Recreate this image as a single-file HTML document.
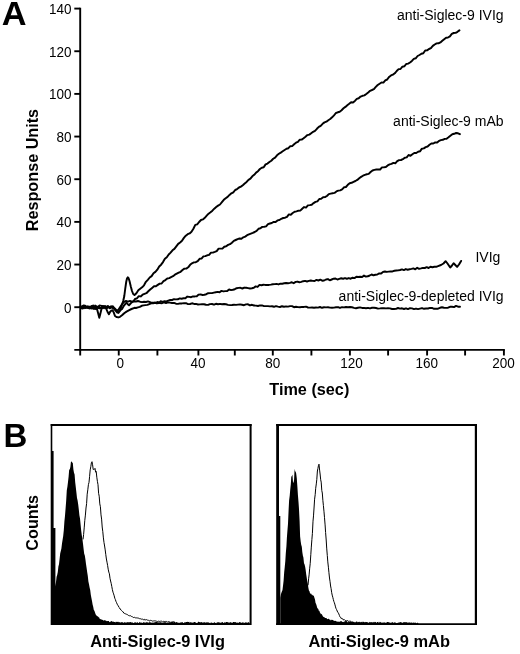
<!DOCTYPE html>
<html lang="en">
<head>
<meta charset="utf-8">
<title>Figure</title>
<style>
html,body{margin:0;padding:0;background:#fff;}
body{width:520px;height:654px;overflow:hidden;font-family:"Liberation Sans",Arial,Helvetica,sans-serif;}
svg text{white-space:pre;}
svg{filter:grayscale(1);}
</style>
</head>
<body>
<svg width="520" height="654" viewBox="0 0 520 654" style="display:block">
<rect x="0" y="0" width="520" height="654" fill="#fff"/>
<g font-family="'Liberation Sans', Arial, Helvetica, sans-serif" fill="#000">
<text transform="translate(1.7,25.4) scale(1.04,1)" font-size="33" font-weight="bold">A</text>
<text x="3.6" y="446.9" font-size="33" font-weight="bold">B</text>
<g stroke="#000" stroke-width="1.9" fill="none" stroke-linecap="butt">
<path d="M80.2,7.7 V350.8"/>
<path d="M74.3,349.85 H504.85"/>
<path d="M74.3,307.20 H80.2"/>
<path d="M74.3,264.54 H80.2"/>
<path d="M74.3,221.88 H80.2"/>
<path d="M74.3,179.22 H80.2"/>
<path d="M74.3,136.56 H80.2"/>
<path d="M74.3,93.90 H80.2"/>
<path d="M74.3,51.24 H80.2"/>
<path d="M74.3,8.58 H80.2"/>
<path d="M80.20,349.85 V355.5"/>
<path d="M118.75,349.85 V355.5"/>
<path d="M157.40,349.85 V355.5"/>
<path d="M198.40,349.85 V355.5"/>
<path d="M234.80,349.85 V355.5"/>
<path d="M272.80,349.85 V355.5"/>
<path d="M311.40,349.85 V355.5"/>
<path d="M349.90,349.85 V355.5"/>
<path d="M388.10,349.85 V355.5"/>
<path d="M427.10,349.85 V355.5"/>
<path d="M465.10,349.85 V355.5"/>
<path d="M503.90,349.85 V355.5"/>
</g>
<text transform="translate(71.5,312.50) scale(0.965,1)" font-size="14" text-anchor="end">0</text>
<text transform="translate(71.5,269.84) scale(0.965,1)" font-size="14" text-anchor="end">20</text>
<text transform="translate(71.5,227.18) scale(0.965,1)" font-size="14" text-anchor="end">40</text>
<text transform="translate(71.5,184.52) scale(0.965,1)" font-size="14" text-anchor="end">60</text>
<text transform="translate(71.5,141.86) scale(0.965,1)" font-size="14" text-anchor="end">80</text>
<text transform="translate(71.5,99.20) scale(0.965,1)" font-size="14" text-anchor="end">100</text>
<text transform="translate(71.5,56.54) scale(0.965,1)" font-size="14" text-anchor="end">120</text>
<text transform="translate(71.5,13.88) scale(0.965,1)" font-size="14" text-anchor="end">140</text>
<text transform="translate(120.20,368.0) scale(0.965,1)" font-size="14" text-anchor="middle">0</text>
<text transform="translate(197.90,368.0) scale(0.965,1)" font-size="14" text-anchor="middle">40</text>
<text transform="translate(272.70,368.0) scale(0.965,1)" font-size="14" text-anchor="middle">80</text>
<text transform="translate(351.40,368.0) scale(0.965,1)" font-size="14" text-anchor="middle">120</text>
<text transform="translate(426.80,368.0) scale(0.965,1)" font-size="14" text-anchor="middle">160</text>
<text transform="translate(503.60,368.0) scale(0.965,1)" font-size="14" text-anchor="middle">200</text>
<text transform="translate(38.1,231.2) rotate(-90)" font-size="15.7" font-weight="bold" textLength="122.3" lengthAdjust="spacingAndGlyphs">Response Units</text>
<text x="269.3" y="395.4" font-size="16" font-weight="bold" textLength="80.0" lengthAdjust="spacingAndGlyphs">Time (sec)</text>
<text x="503.6" y="20.4" font-size="14" text-anchor="end">anti-Siglec-9 IVIg</text>
<text x="503.6" y="126.2" font-size="14" text-anchor="end">anti-Siglec-9 mAb</text>
<text x="500.4" y="261.8" font-size="14" text-anchor="end">IVIg</text>
<text x="503.6" y="301.3" font-size="14" text-anchor="end">anti-Siglec-9-depleted IVIg</text>
<g stroke="#000" stroke-width="1.95" fill="none" stroke-linejoin="round" stroke-linecap="round">
<path d="M80.5,307.1 L81.8,306.4 L83.8,305.5 L85.1,305.6 L86.8,307.7 L88.4,307.4 L89.8,308.3 L91.5,306.0 L93.3,308.3 L95.1,308.7 L96.7,306.7 L98.0,307.8 L99.6,308.3 L101.5,308.0 L102.9,306.0 L104.4,306.4 L106.0,307.0 L107.7,306.1 L109.5,307.9 L111.1,306.3 L112.6,307.6 L114.0,308.5 L115.5,310.5 L117.0,312.3 L118.4,313.0 L119.6,311.5 L120.8,308.0 L122.0,304.5 L123.2,301.0 L124.3,296.0 L125.2,289.0 L126.2,282.0 L127.0,278.5 L127.8,277.3 L128.6,278.2 L129.5,281.0 L130.8,286.5 L132.0,291.0 L133.2,294.0 L134.5,295.0 L136.4,293.2 L138.3,290.3 L140.2,288.7 L142.1,287.3 L144.0,285.3 L145.9,281.8 L147.8,279.8 L149.7,277.5 L151.6,276.1 L153.5,273.3 L155.4,271.9 L157.3,269.7 L159.2,266.5 L161.1,264.7 L163.0,262.1 L164.9,258.7 L166.8,257.2 L168.7,254.5 L170.6,252.6 L172.5,250.3 L174.4,248.9 L176.3,246.4 L178.2,243.9 L180.1,242.5 L182.0,240.8 L183.9,237.9 L185.8,235.7 L187.7,234.2 L189.6,233.4 L191.5,231.7 L193.4,228.8 L195.3,224.9 L197.2,224.4 L199.1,222.0 L201.0,220.0 L202.9,219.4 L204.8,217.8 L206.7,215.7 L208.6,213.7 L210.5,212.3 L212.4,210.7 L214.3,208.7 L216.2,207.0 L218.1,205.6 L220.0,204.5 L221.9,202.2 L223.8,199.8 L225.7,198.2 L227.6,196.9 L229.5,194.9 L231.4,193.3 L233.3,192.3 L235.2,190.0 L237.1,189.1 L239.0,187.5 L240.9,186.6 L242.8,185.2 L244.7,183.5 L246.6,181.9 L248.5,179.8 L250.4,178.7 L252.3,176.3 L254.2,174.8 L256.1,172.6 L258.0,171.2 L259.9,169.0 L261.8,167.7 L263.7,167.3 L265.6,164.4 L267.5,163.6 L269.4,162.0 L271.3,160.7 L273.2,158.8 L275.1,157.6 L277.0,155.3 L278.9,153.8 L280.8,152.6 L282.7,151.3 L284.6,150.0 L286.5,148.8 L288.4,148.2 L290.3,146.2 L292.2,146.1 L294.1,144.2 L296.0,142.7 L297.9,141.8 L299.8,139.7 L301.7,139.6 L303.6,138.2 L305.5,136.7 L307.4,135.1 L309.3,134.6 L311.2,133.2 L313.1,131.8 L315.0,130.8 L316.9,128.8 L318.8,126.9 L320.7,125.8 L322.6,123.8 L324.5,122.4 L326.4,121.7 L328.3,120.2 L330.2,119.0 L332.1,117.3 L334.0,115.3 L335.9,113.0 L337.8,112.3 L339.7,111.7 L341.6,110.2 L343.5,108.3 L345.4,106.9 L347.3,105.2 L349.2,103.8 L351.1,102.3 L353.0,102.5 L354.9,100.9 L356.8,98.9 L358.7,98.3 L360.6,96.6 L362.5,95.8 L364.4,95.4 L366.3,94.0 L368.2,92.5 L370.1,90.8 L372.0,90.0 L373.9,89.1 L375.8,86.9 L377.7,85.0 L379.6,83.7 L381.5,82.5 L383.4,82.6 L385.3,80.4 L387.2,79.5 L389.1,76.9 L391.0,75.4 L392.9,74.6 L394.8,73.3 L396.7,71.0 L398.6,69.1 L400.5,69.0 L402.4,66.7 L404.3,66.3 L406.2,64.0 L408.1,63.6 L410.0,62.5 L411.9,60.9 L413.8,58.9 L415.7,58.3 L417.6,56.0 L419.5,55.0 L421.4,53.8 L423.3,53.2 L425.2,50.5 L427.1,50.4 L429.0,49.0 L430.9,48.1 L432.8,45.9 L434.7,44.5 L436.6,43.4 L438.5,43.3 L440.4,42.4 L442.3,40.8 L444.2,39.2 L446.1,37.7 L448.0,37.5 L449.9,36.4 L451.8,33.9 L453.7,33.0 L455.6,32.9 L457.5,31.8 L459.4,30.4"/>
<path d="M80.5,307.1 L81.9,307.0 L83.7,308.3 L85.1,306.6 L86.8,307.7 L88.3,308.2 L89.8,307.3 L91.9,307.9 L93.1,305.4 L95.1,308.7 L97.0,309.0 L98.2,313.5 L99.3,317.7 L100.4,313.5 L101.6,308.5 L102.6,306.5 L104.0,308.2 L105.5,306.3 L107.0,308.0 L108.5,306.4 L110.0,308.3 L111.5,307.0 L113.0,308.0 L114.5,309.0 L116.0,310.5 L118.0,311.6 L120.0,310.6 L122.0,309.0 L124.0,305.5 L126.5,302.7 L128.0,304.5 L129.0,305.3 L131.0,303.0 L133.4,301.3 L135.0,299.0 L136.9,298.3 L138.8,296.2 L140.7,296.4 L142.6,294.7 L144.5,293.9 L146.4,293.2 L148.3,291.3 L150.2,289.5 L152.1,287.9 L154.0,286.3 L155.9,286.3 L157.8,284.9 L159.7,283.6 L161.6,283.5 L163.5,281.2 L165.4,280.1 L167.3,278.5 L169.2,278.1 L171.1,277.1 L173.0,276.2 L174.9,274.7 L176.8,273.7 L178.7,272.7 L180.6,271.8 L182.5,270.0 L184.4,268.6 L186.3,268.6 L188.2,267.3 L190.1,264.8 L192.0,263.3 L193.9,262.4 L195.8,262.2 L197.7,261.2 L199.6,258.8 L201.5,258.6 L203.4,256.4 L205.3,256.1 L207.2,255.3 L209.1,254.9 L211.0,252.6 L212.9,252.6 L214.8,251.9 L216.7,251.1 L218.6,248.6 L220.5,248.6 L222.4,248.6 L224.3,246.7 L226.2,246.3 L228.1,244.9 L230.0,244.2 L231.9,242.7 L233.8,240.9 L235.7,240.0 L237.6,239.1 L239.5,238.5 L241.4,238.8 L243.3,237.3 L245.2,236.6 L247.1,235.2 L249.0,234.3 L250.9,233.6 L252.8,232.9 L254.7,232.0 L256.6,230.9 L258.5,228.8 L260.4,228.3 L262.3,226.9 L264.2,226.8 L266.1,226.4 L268.0,224.2 L269.9,223.5 L271.8,223.0 L273.7,221.9 L275.6,222.0 L277.5,220.4 L279.4,220.0 L281.3,218.8 L283.2,218.0 L285.1,217.7 L287.0,216.8 L288.9,214.4 L290.8,214.7 L292.7,213.0 L294.6,211.8 L296.5,211.4 L298.4,210.7 L300.3,210.6 L302.2,208.7 L304.1,207.1 L306.0,207.6 L307.9,205.4 L309.8,205.1 L311.7,204.7 L313.6,203.1 L315.5,201.9 L317.4,201.4 L319.3,199.0 L321.2,198.7 L323.1,197.3 L325.0,197.1 L326.9,196.0 L328.8,194.1 L330.7,193.6 L332.6,193.2 L334.5,192.9 L336.4,191.4 L338.3,190.6 L340.2,190.4 L342.1,189.4 L344.0,187.3 L345.9,187.0 L347.8,184.8 L349.7,183.2 L351.6,182.8 L353.5,181.8 L355.4,181.0 L357.3,179.9 L359.2,178.2 L361.1,176.9 L363.0,175.7 L364.9,174.9 L366.8,174.3 L368.7,173.9 L370.6,172.0 L372.5,170.5 L374.4,169.9 L376.3,169.5 L378.2,169.5 L380.1,169.5 L382.0,167.4 L383.9,167.3 L385.8,167.1 L387.7,165.4 L389.6,164.4 L391.5,163.9 L393.4,162.9 L395.3,163.3 L397.2,161.2 L399.1,160.1 L401.0,160.0 L402.9,159.1 L404.8,157.8 L406.7,157.4 L408.6,155.0 L410.5,155.8 L412.4,154.3 L414.3,153.0 L416.2,153.0 L418.1,151.7 L420.0,151.3 L421.9,148.7 L423.8,148.4 L425.7,147.1 L427.6,146.5 L429.5,144.8 L431.4,143.5 L433.3,143.5 L435.2,142.4 L437.1,142.5 L439.0,140.9 L440.9,140.1 L442.8,139.8 L444.7,138.9 L446.6,138.7 L448.5,137.3 L450.4,135.8 L452.3,134.3 L454.2,133.8 L456.1,133.0 L458.0,133.3 L459.9,134.2"/>
<path d="M80.5,307.1 L82.1,308.6 L83.9,306.4 L85.1,307.7 L86.7,306.7 L88.6,306.8 L89.8,308.4 L91.9,306.4 L93.4,308.7 L95.1,305.6 L96.4,306.4 L98.3,307.5 L99.5,305.4 L101.6,305.9 L102.9,306.6 L104.7,306.9 L106.3,308.8 L107.6,312.0 L108.9,314.2 L110.0,312.0 L111.3,310.6 L112.6,310.2 L113.8,312.6 L115.0,316.0 L116.5,317.0 L118.4,317.4 L120.0,316.8 L122.0,315.3 L124.2,313.2 L126.5,311.6 L128.8,310.3 L131.5,309.0 L134.5,307.8 L136.0,308.0 L137.9,307.4 L139.8,306.9 L141.7,305.8 L143.6,305.4 L145.5,305.1 L147.4,304.9 L149.3,304.1 L151.2,303.3 L153.1,303.3 L155.0,302.7 L156.9,303.4 L158.8,303.1 L160.7,301.3 L162.6,301.9 L164.5,301.3 L166.4,301.4 L168.3,300.6 L170.2,300.0 L172.1,300.0 L174.0,299.2 L175.9,299.4 L177.8,299.3 L179.7,298.4 L181.6,298.8 L183.5,298.3 L185.4,298.2 L187.3,296.6 L189.2,296.9 L191.1,297.2 L193.0,296.4 L194.9,296.4 L196.8,296.2 L198.7,294.6 L200.6,294.4 L202.5,295.0 L204.4,294.8 L206.3,294.2 L208.2,293.2 L210.1,293.1 L212.0,293.1 L213.9,292.6 L215.8,292.2 L217.7,291.9 L219.6,292.3 L221.5,290.9 L223.4,291.4 L225.3,291.1 L227.2,291.1 L229.1,289.4 L231.0,290.1 L232.9,289.8 L234.8,289.2 L236.7,288.2 L238.6,287.9 L240.5,287.8 L242.4,288.5 L244.3,287.6 L246.2,287.7 L248.1,288.1 L250.0,288.5 L251.9,288.2 L253.8,287.8 L255.7,286.4 L257.6,286.9 L259.5,284.9 L261.4,285.2 L263.3,284.8 L265.2,284.9 L267.1,284.9 L269.0,284.9 L270.9,284.6 L272.8,284.2 L274.7,284.1 L276.6,283.9 L278.5,284.4 L280.4,283.7 L282.3,283.7 L284.2,283.3 L286.1,283.0 L288.0,283.3 L289.9,282.9 L291.8,282.3 L293.7,283.2 L295.6,281.9 L297.5,281.6 L299.4,282.2 L301.3,281.9 L303.2,281.2 L305.1,280.9 L307.0,281.5 L308.9,280.9 L310.8,280.5 L312.7,280.9 L314.6,281.0 L316.5,279.9 L318.4,280.5 L320.3,279.7 L322.2,280.7 L324.1,280.5 L326.0,279.5 L327.9,279.1 L329.8,280.3 L331.7,279.5 L333.6,278.7 L335.5,278.5 L337.4,279.5 L339.3,278.9 L341.2,278.3 L343.1,278.7 L345.0,278.1 L346.9,278.7 L348.8,278.1 L350.7,278.7 L352.6,277.7 L354.5,278.1 L356.4,276.8 L358.3,277.0 L360.2,276.7 L362.1,277.0 L364.0,275.6 L365.9,276.6 L367.8,276.3 L369.7,275.5 L371.6,274.5 L373.5,275.3 L375.4,274.7 L377.3,274.5 L379.2,273.4 L381.1,273.5 L383.0,271.9 L384.9,271.5 L386.8,271.9 L388.7,271.6 L390.6,271.4 L392.5,271.4 L394.4,270.8 L396.3,270.5 L398.2,270.4 L400.1,270.0 L402.0,269.4 L403.9,270.1 L405.8,269.1 L407.7,269.7 L409.6,269.3 L411.5,268.9 L413.4,268.4 L415.3,269.3 L417.2,267.8 L419.1,268.8 L421.0,268.4 L422.9,267.9 L424.8,268.0 L426.7,267.2 L428.6,268.0 L430.5,266.7 L432.4,267.2 L434.3,266.7 L436.2,266.8 L438.1,266.1 L441.0,265.0 L443.5,263.5 L445.6,261.2 L447.5,263.5 L450.2,267.5 L452.0,265.5 L453.6,263.2 L455.3,265.0 L457.1,266.9 L459.0,264.5 L461.1,260.9"/>
<path d="M80.5,307.1 L82.4,307.8 L84.0,306.1 L85.2,307.9 L87.2,306.5 L88.3,306.7 L90.0,306.6 L91.8,308.5 L93.3,306.2 L95.0,307.3 L96.5,308.4 L98.3,306.4 L99.8,307.7 L101.6,308.4 L103.2,307.6 L104.6,306.2 L106.1,308.1 L107.9,307.2 L109.5,307.1 L111.1,307.5 L112.7,306.2 L114.5,308.3 L116.0,309.8 L117.3,310.6 L118.6,309.4 L120.0,307.2 L121.5,305.0 L123.0,303.0 L124.5,301.6 L126.0,301.0 L128.0,301.6 L130.0,300.9 L132.0,301.6 L134.0,301.2 L136.0,301.5 L138.0,301.0 L140.0,301.7 L142.0,302.1 L144.0,301.8 L146.0,302.0 L148.0,301.4 L150.0,302.1 L152.0,302.8 L154.0,302.8 L156.0,302.7 L158.0,302.0 L160.0,303.1 L162.0,303.2 L164.0,302.4 L166.0,303.1 L168.0,302.4 L170.0,302.6 L172.0,303.0 L174.0,302.9 L176.0,303.7 L178.0,303.9 L180.0,303.4 L182.0,303.4 L184.0,303.2 L186.0,303.2 L188.0,304.1 L190.0,304.0 L192.0,303.3 L194.0,303.9 L196.0,303.9 L198.0,304.5 L200.0,304.4 L202.0,304.3 L204.0,304.2 L206.0,304.8 L208.0,304.9 L210.0,304.1 L212.0,304.0 L214.0,304.7 L216.0,303.8 L218.0,304.2 L220.0,303.9 L222.0,304.2 L224.0,304.0 L226.0,304.3 L228.0,304.9 L230.0,305.1 L232.0,305.0 L234.0,304.8 L236.0,304.9 L238.0,304.6 L240.0,304.4 L242.0,304.8 L244.0,305.2 L246.0,304.4 L248.0,304.3 L250.0,305.4 L252.0,304.8 L254.0,305.5 L256.0,305.6 L258.0,306.0 L260.0,305.4 L262.0,305.4 L264.0,306.1 L266.0,306.1 L268.0,306.1 L270.0,306.4 L272.0,306.3 L274.0,306.8 L276.0,306.1 L278.0,306.6 L280.0,307.0 L282.0,306.2 L284.0,306.7 L286.0,306.4 L288.0,306.6 L290.0,306.1 L292.0,306.1 L294.0,307.2 L296.0,306.8 L298.0,307.1 L300.0,307.3 L302.0,306.9 L304.0,306.9 L306.0,306.7 L308.0,307.5 L310.0,307.6 L312.0,307.5 L314.0,307.8 L316.0,307.5 L318.0,307.6 L320.0,307.0 L322.0,307.8 L324.0,307.3 L326.0,307.4 L328.0,307.3 L330.0,307.6 L332.0,307.7 L334.0,307.6 L336.0,307.3 L338.0,307.1 L340.0,307.9 L342.0,307.2 L344.0,307.4 L346.0,307.0 L348.0,307.2 L350.0,307.0 L352.0,307.3 L354.0,307.9 L356.0,308.2 L358.0,307.8 L360.0,307.4 L362.0,307.9 L364.0,307.9 L366.0,308.2 L368.0,307.9 L370.0,308.4 L372.0,307.8 L374.0,307.7 L376.0,308.0 L378.0,308.6 L380.0,308.4 L382.0,308.1 L384.0,308.2 L386.0,308.4 L388.0,308.2 L390.0,308.4 L392.0,309.0 L394.0,309.0 L396.0,308.9 L398.0,308.0 L400.0,308.6 L402.0,308.3 L404.0,309.0 L406.0,308.3 L408.0,309.1 L410.0,308.2 L412.0,308.4 L414.0,309.1 L416.0,308.6 L418.0,309.1 L420.0,308.6 L422.0,308.1 L424.0,308.8 L426.0,308.5 L428.0,308.5 L430.0,307.9 L432.0,307.9 L434.0,308.8 L436.0,308.8 L438.0,308.7 L440.0,307.8 L442.0,307.3 L444.0,307.8 L446.0,307.9 L448.0,307.7 L450.0,306.8 L452.0,306.8 L454.0,307.1 L456.0,305.9 L458.0,306.7 L460.0,306.7"/>
</g>
<g stroke="none" fill="#000">
<path d="M53,625.0 L53.0,595.6 L53.6,593.2 L54.2,590.6 L54.8,587.4 L55.4,584.5 L56.0,581.9 L56.6,576.7 L57.2,575.0 L57.8,571.9 L58.4,566.5 L59.0,564.3 L59.6,559.0 L60.2,553.5 L60.8,550.9 L61.4,548.6 L62.0,543.5 L62.6,539.8 L63.2,536.1 L63.8,530.3 L64.4,521.4 L65.0,515.7 L65.6,508.2 L66.2,500.4 L66.8,490.3 L67.4,486.7 L68.0,482.0 L68.6,476.8 L69.2,469.6 L69.8,469.5 L70.4,466.8 L71.0,461.2 L71.6,461.8 L72.2,462.6 L72.8,462.9 L73.4,469.6 L74.0,472.8 L74.6,474.5 L75.2,482.2 L75.8,487.3 L76.4,492.5 L77.0,497.9 L77.6,500.6 L78.2,504.5 L78.8,509.6 L79.4,515.2 L80.0,518.5 L80.6,524.6 L81.2,530.8 L81.8,535.3 L82.4,538.9 L83.0,543.8 L83.6,548.9 L84.2,553.7 L84.8,555.4 L85.4,559.3 L86.0,564.1 L86.6,568.1 L87.2,572.3 L87.8,575.9 L88.4,581.4 L89.0,584.3 L89.6,587.5 L90.2,590.1 L90.8,594.8 L91.4,598.0 L92.0,601.0 L92.6,604.5 L93.2,606.7 L93.8,610.0 L94.4,610.8 L95.0,612.4 L95.6,614.3 L96.2,615.3 L96.8,615.7 L97.4,616.2 L98.0,616.6 L98.6,617.2 L99.2,617.4 L99.8,618.9 L100.4,619.1 L101.0,619.5 L101.6,619.5 L102.2,619.7 L102.8,620.0 L103.4,620.6 L104.0,620.4 L104.6,620.1 L105.2,620.7 L105.8,620.2 L106.4,621.1 L107.0,621.2 L107.6,621.0 L108.2,620.9 L108.8,620.9 L109.4,622.0 L110.0,622.2 L110.6,621.4 L111.2,621.0 L111.8,621.3 L112.4,621.6 L113.0,622.1 L113.6,621.5 L114.2,622.1 L114.8,622.0 L115.4,622.4 L116.0,621.4 L116.6,622.1 L117.2,622.0 L117.8,621.7 L118.4,621.8 L119.0,622.6 L119.6,622.1 L120.2,622.6 L120.8,622.5 L121.4,621.9 L122.0,622.5 L122.6,621.9 L123.2,623.0 L123.8,622.6 L124.4,622.1 L125.0,622.7 L125.6,622.6 L126.2,621.9 L126.8,623.0 L127.4,622.1 L128.0,622.3 L128.6,622.3 L129.2,622.4 L129.8,622.1 L130.4,622.0 L131.0,622.3 L131.6,622.6 L132.2,622.5 L132.8,622.6 L133.4,623.0 L134.0,622.9 L134.6,622.2 L135.2,622.5 L135.8,622.3 L136.4,622.8 L137.0,622.7 L137.6,622.1 L138.2,622.9 L138.8,623.0 L139.4,621.8 L140.0,622.7 L140.6,622.5 L141.2,622.3 L141.8,622.9 L142.4,623.0 L143.0,622.6 L143.6,622.0 L144.2,622.9 L144.8,622.0 L145.4,622.6 L146.0,622.9 L146.6,621.7 L147.2,622.5 L147.8,622.2 L148.4,622.5 L149.0,623.0 L149.6,621.7 L150.2,621.9 L150.8,622.7 L151.4,622.5 L152.0,622.9 L152.6,622.5 L153.2,622.2 L153.8,622.9 L154.4,622.6 L155.0,621.7 L155.6,622.3 L156.2,621.9 L156.8,622.0 L157.4,621.8 L158.0,622.9 L158.6,622.0 L159.2,622.7 L159.8,622.1 L160.4,622.4 L161.0,621.8 L161.6,622.8 L162.2,623.0 L162.8,622.7 L163.4,622.1 L164.0,623.1 L164.6,621.8 L165.2,622.1 L165.8,622.5 L166.4,622.6 L167.0,623.1 L167.6,623.0 L168.2,622.6 L168.8,622.6 L169.4,622.2 L170.0,622.2 L170.6,622.5 L171.2,621.7 L171.8,622.2 L172.4,621.8 L173.0,622.3 L173.6,622.3 L174.2,622.1 L174.8,621.8 L175.4,622.8 L176.0,622.0 L176.6,621.9 L177.2,622.7 L177.8,622.2 L178.4,622.9 L179.0,622.4 L179.6,623.0 L180.2,622.6 L180.8,622.5 L181.4,622.2 L182.0,622.4 L182.6,621.9 L183.2,622.9 L183.8,623.0 L184.4,622.3 L185.0,622.6 L185.6,622.3 L186.2,622.1 L186.8,622.1 L187.4,621.8 L188.0,622.1 L188.6,622.0 L189.2,621.8 L189.8,622.9 L190.4,622.3 L191.0,621.9 L191.6,622.8 L192.2,622.2 L192.8,623.1 L193.4,622.5 L194.0,622.0 L194.6,622.0 L195.2,622.2 L195.8,622.5 L196.4,623.0 L197.0,622.9 L197.6,622.8 L198.2,621.8 L198.8,621.8 L199.4,622.2 L200.0,622.0 L200.6,622.5 L201.2,621.9 L201.8,622.3 L202.4,622.7 L203.0,622.2 L203.6,622.6 L204.2,622.6 L204.8,622.0 L205.4,623.0 L206.0,622.0 L206.6,622.6 L207.2,622.8 L207.8,622.1 L208.4,622.3 L209.0,623.1 L209.6,622.8 L210.2,623.2 L210.8,622.4 L211.4,622.6 L212.0,622.7 L212.6,623.0 L213.2,622.7 L213.8,623.0 L214.4,621.9 L215.0,622.8 L215.6,623.0 L216.2,623.2 L216.8,622.4 L217.4,622.3 L218.0,622.5 L218.6,622.1 L219.2,623.0 L219.8,622.1 L220.4,622.9 L221.0,622.5 L221.6,622.6 L222.2,622.3 L222.8,622.0 L223.4,623.0 L224.0,623.1 L224.6,621.9 L225.2,623.1 L225.8,621.9 L226.4,622.1 L227.0,621.9 L227.6,622.3 L228.2,621.9 L228.8,623.0 L229.4,622.5 L230.0,622.4 L230.6,621.9 L231.2,622.8 L231.8,622.4 L232.4,623.0 L233.0,622.0 L233.6,622.0 L234.2,622.3 L234.8,622.1 L235.4,622.3 L236.0,621.9 L236.6,623.0 L237.2,622.4 L237.8,622.8 L238.4,623.1 L239.0,622.2 L239.6,622.0 L240.2,622.4 L240.8,622.3 L241.4,622.9 L242.0,622.5 L242.6,622.4 L243.2,622.1 L243.8,623.2 L244.4,622.8 L245.0,622.7 L245.6,622.3 L246.2,622.4 L246.8,622.5 L247.4,623.0 L248.0,622.1 L248.6,622.2 L249.2,622.7 L249.8,623.1 L250,625.0 Z"/>
<path d="M50.7,424.1 H52.3 V451 H53.6 V528 H55.4 V597 H53.6 V625.0 H50.7 Z"/>
</g>
<g stroke="#000" fill="none">
<path d="M50.7,425.05 H251.6" stroke-width="1.9"/>
<path d="M250.6,424.1 V625.0" stroke-width="2.0"/>
</g>
<path d="M83.0,539.4 L83.6,534.6 L84.2,527.9 L84.8,520.3 L85.4,515.1 L86.0,508.0 L86.6,503.6 L87.2,494.2 L87.8,489.8 L88.4,484.7 L89.0,482.4 L89.6,476.4 L90.2,469.9 L90.8,466.7 L91.4,462.8 L92.0,461.7 L92.6,464.8 L93.2,469.5 L93.8,469.4 L94.4,469.3 L95.0,468.4 L95.6,472.2 L96.2,471.4 L96.8,477.2 L97.4,481.3 L98.0,484.7 L98.6,493.3 L99.2,496.2 L99.8,503.9 L100.4,506.7 L101.0,514.9 L101.6,519.1 L102.2,527.0 L102.8,531.7 L103.4,537.9 L104.0,542.6 L104.6,546.0 L105.2,549.9 L105.8,554.7 L106.4,559.0 L107.0,562.2 L107.6,565.4 L108.2,569.2 L108.8,572.1 L109.4,573.8 L110.0,578.3 L110.6,581.0 L111.2,583.4 L111.8,586.6 L112.4,589.7 L113.0,592.2 L113.6,593.9 L114.2,595.8 L114.8,598.3 L115.4,599.6 L116.0,601.5 L116.6,602.7 L117.2,604.2 L117.8,605.2 L118.4,606.0 L119.0,607.5 L119.6,608.0 L120.2,609.0 L120.8,609.9 L121.4,610.3 L122.0,610.9 L122.6,611.7 L123.2,611.9 L123.8,613.1 L124.4,613.4 L125.0,613.5 L125.6,613.9 L126.2,614.2 L126.8,614.3 L127.4,614.6 L128.0,615.1 L128.6,615.5 L129.2,615.6 L129.8,615.9 L130.4,615.7 L131.0,616.1 L131.6,616.5 L132.2,616.7 L132.8,616.9 L133.4,617.5 L134.0,617.7 L134.6,617.3 L135.2,617.5 L135.8,618.1 L136.4,617.9 L137.0,617.8 L137.6,618.0 L138.2,618.0 L138.8,618.2 L139.4,618.8 L140.0,618.4 L140.6,618.8 L141.2,619.2 L141.8,619.1 L142.4,619.1 L143.0,619.4 L143.6,619.7 L144.2,619.2 L144.8,620.1 L145.4,619.8 L146.0,620.1 L146.6,619.6 L147.2,620.0 L147.8,620.2 L148.4,620.1 L149.0,620.8 L149.6,620.9 L150.2,620.7 L150.8,620.2 L151.4,620.5 L152.0,621.0 L152.6,621.1 L153.2,621.0 L153.8,620.9 L154.4,620.8 L155.0,621.3 L155.6,620.9 L156.2,621.1 L156.8,621.4 L157.4,621.6 L158.0,621.4 L158.6,621.2 L159.2,621.2 L159.8,621.7 L160.4,621.1 L161.0,621.2 L161.6,621.2 L162.2,621.7 L162.8,621.8 L163.4,621.4 L164.0,621.4 L164.6,621.5 L165.2,621.4 L165.8,621.5 L166.4,621.4 L167.0,622.0 L167.6,622.1 L168.2,621.9 L168.8,621.5 L169.4,622.1 L170.0,621.7 L170.6,622.3 L171.2,622.2 L171.8,622.1 L172.4,621.9 L173.0,622.0 L173.6,621.7 L174.2,621.9 L174.8,622.3" stroke="#000" stroke-width="1" fill="none" stroke-linejoin="round"/>
<g stroke="none" fill="#000">
<path d="M280.3,625.0 L280.3,597.7 L280.9,594.3 L281.4,592.8 L282.0,591.3 L282.5,590.0 L283.1,585.0 L283.6,580.8 L284.2,572.0 L284.7,567.4 L285.3,561.2 L285.8,553.3 L286.4,546.4 L286.9,537.5 L287.5,529.8 L288.0,523.8 L288.6,510.2 L289.1,500.6 L289.7,495.8 L290.2,490.0 L290.8,484.2 L291.3,476.8 L291.9,476.1 L292.4,474.6 L293.0,481.9 L293.5,483.0 L294.1,479.4 L294.6,468.5 L295.2,472.8 L295.7,470.5 L296.3,474.4 L296.8,478.5 L297.4,487.0 L297.9,494.8 L298.5,502.0 L299.0,509.3 L299.6,521.0 L300.1,536.2 L300.7,541.5 L301.2,544.8 L301.8,546.7 L302.3,552.0 L302.9,555.7 L303.4,557.4 L304.0,563.2 L304.5,564.2 L305.1,566.4 L305.6,569.6 L306.2,574.2 L306.7,577.5 L307.3,581.4 L307.8,583.8 L308.4,588.1 L308.9,590.5 L309.5,591.3 L310.0,593.2 L310.6,593.7 L311.1,593.5 L311.7,594.7 L312.2,594.8 L312.8,595.4 L313.3,595.5 L313.9,596.1 L314.4,597.7 L315.0,599.5 L315.5,602.7 L316.1,604.0 L316.6,605.5 L317.2,607.8 L317.7,608.5 L318.3,609.1 L318.8,610.7 L319.4,610.7 L319.9,612.4 L320.5,613.3 L321.0,614.4 L321.6,613.8 L322.1,614.7 L322.7,616.1 L323.2,616.8 L323.8,616.9 L324.3,617.1 L324.9,617.9 L325.4,618.0 L326.0,617.9 L326.5,618.0 L327.1,619.3 L327.6,618.9 L328.2,619.0 L328.7,618.6 L329.3,619.9 L329.8,619.1 L330.4,619.9 L330.9,620.6 L331.5,619.8 L332.0,619.7 L332.6,620.1 L333.1,620.1 L333.7,620.7 L334.2,621.0 L334.8,620.7 L335.3,621.1 L335.9,620.7 L336.4,621.4 L337.0,621.4 L337.5,621.7 L338.1,621.5 L338.6,621.7 L339.2,622.1 L339.7,621.4 L340.3,621.6 L340.8,621.1 L341.4,621.1 L341.9,621.8 L342.5,622.0 L343.0,621.7 L343.6,622.0 L344.1,622.2 L344.7,621.1 L345.2,621.1 L345.8,621.3 L346.3,621.1 L346.9,621.2 L347.4,622.1 L348.0,622.5 L348.5,621.5 L349.1,622.1 L349.6,622.1 L350.2,621.3 L350.7,621.8 L351.3,622.0 L351.8,621.4 L352.4,621.5 L352.9,621.5 L353.5,622.1 L354.0,621.7 L354.6,622.3 L355.1,622.5 L355.7,621.9 L356.2,621.6 L356.8,621.5 L357.3,622.6 L357.9,621.5 L358.4,622.3 L359.0,621.8 L359.5,621.8 L360.1,622.5 L360.6,622.0 L361.2,621.7 L361.7,622.2 L362.3,621.5 L362.8,622.6 L363.4,621.7 L363.9,621.8 L364.5,622.4 L365.0,621.8 L365.6,622.2 L366.1,622.1 L366.7,622.0 L367.2,622.6 L367.8,621.9 L368.3,622.7 L368.9,622.7 L369.4,621.7 L370.0,622.4 L370.5,622.0 L371.1,622.6 L371.6,622.1 L372.2,622.0 L372.7,622.8 L373.3,621.8 L373.8,622.5 L374.4,622.3 L374.9,621.8 L375.5,622.1 L376.0,622.2 L376.6,623.0 L377.1,621.9 L377.7,622.0 L378.2,621.8 L378.8,623.0 L379.3,622.5 L379.9,621.8 L380.4,621.9 L381.0,622.4 L381.5,622.5 L382.1,623.0 L382.6,622.4 L383.2,621.9 L383.7,623.0 L384.3,622.4 L384.8,622.2 L385.4,622.9 L385.9,622.5 L386.5,622.7 L387.0,622.1 L387.6,621.9 L388.1,621.9 L388.7,622.2 L389.2,622.6 L389.8,622.6 L390.3,622.9 L390.9,622.6 L391.4,622.5 L392.0,622.8 L392.5,622.0 L393.1,622.2 L393.6,623.2 L394.2,622.3 L394.7,622.6 L395.3,622.2 L395.8,622.9 L396.4,623.0 L396.9,623.2 L397.5,622.7 L398.0,623.1 L398.6,622.2 L399.1,623.0 L399.7,622.0 L400.2,622.1 L400.8,622.3 L401.3,621.9 L401.9,623.1 L402.4,623.3 L403.0,621.9 L403.5,622.5 L404.1,622.0 L404.6,622.3 L405.2,622.6 L405.7,622.1 L406.3,622.0 L406.8,622.4 L407.4,622.6 L407.9,622.8 L408.5,622.6 L409.0,622.5 L409.6,622.4 L410.1,622.3 L410.7,623.0 L411.2,622.5 L411.8,622.4 L412.3,623.4 L412.9,622.2 L413.4,622.8 L414.0,622.4 L414.5,622.7 L415.1,622.9 L415.6,622.2 L416.2,623.6 L416.7,623.3 L417.3,622.6 L417.8,623.1 L418.4,623.5 L418.9,624.2 L419.5,624.5 L420.0,624.6 L420.6,625.0 L421,625.0 Z"/>
<path d="M276.2,424.1 H279.0 V516 H280.3 V625.0 H276.2 Z"/>
</g>
<g stroke="#000" fill="none">
<path d="M276.2,425.05 H477.0" stroke-width="1.9"/>
<path d="M475.9,424.1 V625.0" stroke-width="2.2"/>
<path d="M276.2,624.1 H477.0" stroke-width="1.8"/>
</g>
<path d="M308.0,585.3 L308.6,578.8 L309.1,574.9 L309.7,568.2 L310.2,563.7 L310.8,554.7 L311.3,547.1 L311.9,539.4 L312.4,533.4 L313.0,521.2 L313.5,515.9 L314.1,507.0 L314.6,499.2 L315.2,494.6 L315.7,488.3 L316.3,483.9 L316.8,479.4 L317.4,471.0 L317.9,468.6 L318.5,465.3 L319.0,464.2 L319.6,470.1 L320.1,474.0 L320.7,479.8 L321.2,482.1 L321.8,490.6 L322.3,493.0 L322.9,500.7 L323.4,505.5 L324.0,511.8 L324.5,517.7 L325.1,524.9 L325.6,532.5 L326.2,540.0 L326.7,548.1 L327.3,555.5 L327.8,561.9 L328.4,567.2 L328.9,572.3 L329.5,578.0 L330.0,581.3 L330.6,586.0 L331.1,588.6 L331.7,592.7 L332.2,595.1 L332.8,597.3 L333.3,599.4 L333.9,601.6 L334.4,602.8 L335.0,604.9 L335.5,606.9 L336.1,608.7 L336.6,609.6 L337.2,611.0 L337.7,612.2 L338.3,612.8 L338.8,613.9 L339.4,615.4 L339.9,616.8 L340.5,617.3 L341.0,618.4 L341.6,618.2 L342.1,619.1 L342.7,618.9 L343.2,619.2 L343.8,620.2 L344.3,619.6 L344.9,620.2 L345.4,620.6 L346.0,620.3 L346.5,620.9 L347.1,620.7 L347.6,620.5 L348.2,621.4 L348.7,621.3 L349.3,621.2 L349.8,621.2 L350.4,621.2 L350.9,621.6 L351.5,622.1 L352.0,621.8" stroke="#000" stroke-width="1" fill="none" stroke-linejoin="round"/>
<text transform="translate(38,550.7) rotate(-90)" font-size="16" font-weight="bold" textLength="55.8" lengthAdjust="spacingAndGlyphs">Counts</text>
<text x="90.3" y="646.6" font-size="15.7" font-weight="bold" textLength="134.6" lengthAdjust="spacingAndGlyphs">Anti-Siglec-9 IVIg</text>
<text x="308.4" y="646.6" font-size="15.7" font-weight="bold" textLength="141.6" lengthAdjust="spacingAndGlyphs">Anti-Siglec-9 mAb</text>
</g>
</svg>
</body>
</html>
